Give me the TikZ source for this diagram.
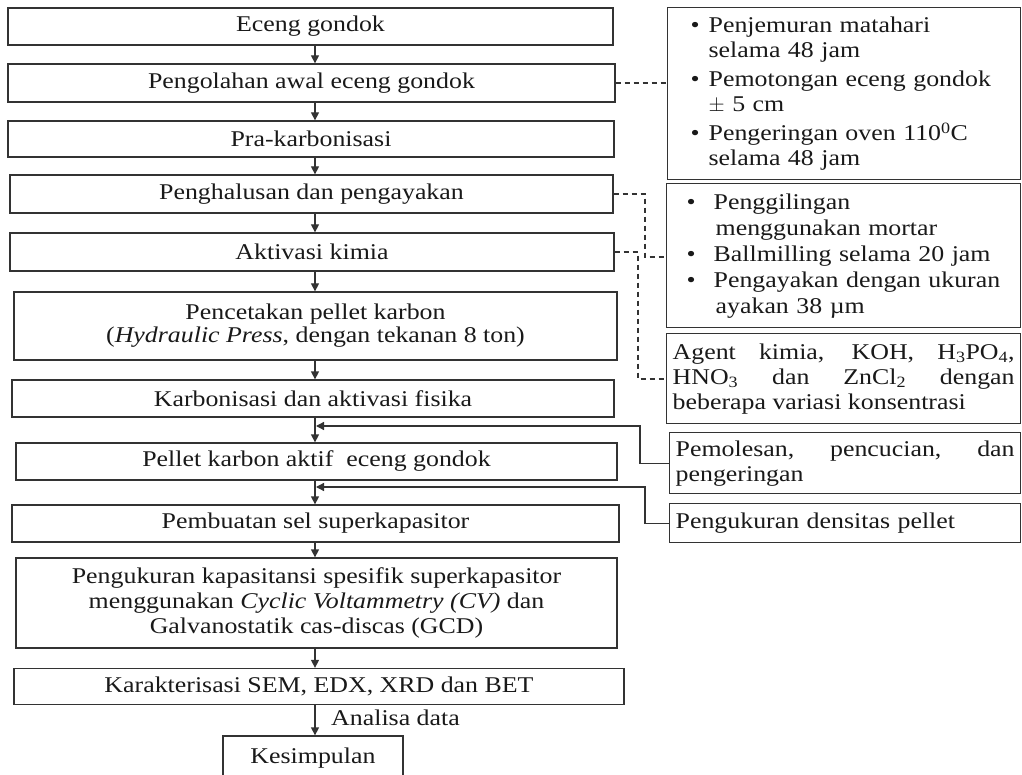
\documentclass[tikz,border=0pt]{standalone}
\usepackage{fontspec}
\setmainfont{Liberation Serif}[FakeStretch=1.15]
\usetikzlibrary{arrows.meta}
\newcommand\mybul[2]{\hspace*{#1pt}\makebox[#2pt][l]{\textbullet}}
\begin{document}
\begin{tikzpicture}[x=1pt,y=-1pt,
  ln/.style={line width=1.3pt, draw=black!80},
  txt/.style={font=\fontsize{22.5}{25}\selectfont, text=black!90},
  mbox/.style={ln, txt, rectangle, inner sep=0pt, align=center},
  rbox/.style={ln, txt, rectangle, anchor=north west, inner ysep=0pt},
  arr/.style={ln, -{Triangle[length=8pt,width=8pt]}},
  dsh/.style={ln, dash pattern=on 5pt off 4pt},
]
\useasboundingbox (0,0) rectangle (1022,775);
\clip (0,0) rectangle (1022,775);
\coordinate (ax) at (315,0);

% main column
\node[mbox, minimum width=605, minimum height=37] (e1) at (310.5,26.5) {Eceng gondok};
\node[mbox, minimum width=607, minimum height=38] (e2) at (311.5,83) {Pengolahan awal eceng gondok};
\node[mbox, minimum width=606, minimum height=36] (e3) at (311,139) {Pra-karbonisasi};
\node[mbox, minimum width=603, minimum height=38] (e4) at (311.5,194) {Penghalusan dan pengayakan};
\node[mbox, minimum width=604, minimum height=38] (e5) at (312,252) {Aktivasi kimia};
\node[mbox, minimum width=603, minimum height=68, font=\fontsize{22.5}{23}\selectfont] (e6) at (315.5,326) {Pencetakan pellet karbon\\(\textit{Hydraulic Press}, dengan tekanan 8 ton)};
\node[mbox, minimum width=602, minimum height=37] (e7) at (313,398.5) {Karbonisasi dan aktivasi fisika};
\node[mbox, minimum width=601, minimum height=37] (e8) at (316.5,461.5) {Pellet karbon aktif\ \ eceng gondok};
\node[mbox, minimum width=607, minimum height=37] (e9) at (315.5,523.5) {Pembuatan sel superkapasitor};
\node[mbox, minimum width=601, minimum height=90] (e10) at (316.5,603) {Pengukuran kapasitansi spesifik superkapasitor\\menggunakan \textit{Cyclic Voltammetry (CV)} dan\\Galvanostatik cas-discas (GCD)};
\node[mbox, minimum width=610, minimum height=36] (e11) at (319,686.5) {Karakterisasi SEM, EDX, XRD dan BET};
\node[mbox, minimum width=180, minimum height=44] (e12) at (313,758) {Kesimpulan};
\node[txt, anchor=west, inner sep=0pt] (lab) at (331,718) {Analisa data};

% right column
\node[rbox, minimum width=353, minimum height=172, text width=353, inner xsep=0pt, align=left] (rA) at (667,7)
  {\mybul{23}{18}Penjemuran matahari\\
   \hspace*{41pt}selama 48 jam\\[4pt]
   \mybul{23}{18}Pemotongan eceng gondok\\
   \hspace*{41pt}$\pm$ 5 cm\\[4pt]
   \mybul{23}{18}Pengeringan oven 110\textsuperscript{0}C\\
   \hspace*{41pt}selama 48 jam};
\node[rbox, minimum width=354, minimum height=144, text width=354, inner xsep=0pt, align=left, font=\fontsize{22.5}{26}\selectfont] (rB) at (666,183)
  {\mybul{20}{27}Penggilingan\\
   \hspace*{49pt}menggunakan mortar\\
   \mybul{20}{27}Ballmilling selama 20 jam\\
   \mybul{20}{27}Pengayakan dengan ukuran\\
   \hspace*{49pt}ayakan 38 µm};
\node[rbox, minimum width=354, minimum height=90, text width=342, inner xsep=6pt, align=justify] (rC) at (666,333)
  {Agent kimia, KOH, H\textsubscript{3}PO\textsubscript{4},\linebreak
   HNO\textsubscript{3} dan ZnCl\textsubscript{2} dengan\linebreak
   beberapa variasi konsentrasi};
\node[rbox, minimum width=351, minimum height=61, text width=339, inner xsep=6pt, align=justify] (rD) at (669,432)
  {Pemolesan, pencucian, dan\linebreak pengeringan};
\node[rbox, minimum width=351, minimum height=39, text width=339, inner xsep=6pt, align=left] (rE) at (669,503)
  {Pengukuran densitas pellet};

% main arrows
\draw[arr] (e1.south -| ax) -- (e2.north -| ax);
\draw[arr] (e2.south -| ax) -- (e3.north -| ax);
\draw[arr] (e3.south -| ax) -- (e4.north -| ax);
\draw[arr] (e4.south -| ax) -- (e5.north -| ax);
\draw[arr] (e5.south -| ax) -- (e6.north -| ax);
\draw[arr] (e6.south -| ax) -- (e7.north -| ax);
\draw[arr] (e7.south -| ax) -- (e8.north -| ax);
\draw[arr] (e8.south -| ax) -- (e9.north -| ax);
\draw[arr] (e9.south -| ax) -- (e10.north -| ax);
\draw[arr] (e10.south -| ax) -- (e11.north -| ax);
\draw[arr] (e11.south -| ax) -- (e12.north -| ax);

% dashed links
\draw[dsh] (e2.east) -- (rA.west |- e2.east);
\draw[dsh] (e4.east) -| (645,257) -- (rB.west |- 0,257);
\draw[dsh] (e5.east) -| (638,379) -- (rC.west |- 0,379);

% feedback links
\draw[arr] (rD.west) -| (640,426) -- (316,426);
\draw[arr] (rE.west) -| (645,487) -- (316,487);
\end{tikzpicture}
\end{document}
